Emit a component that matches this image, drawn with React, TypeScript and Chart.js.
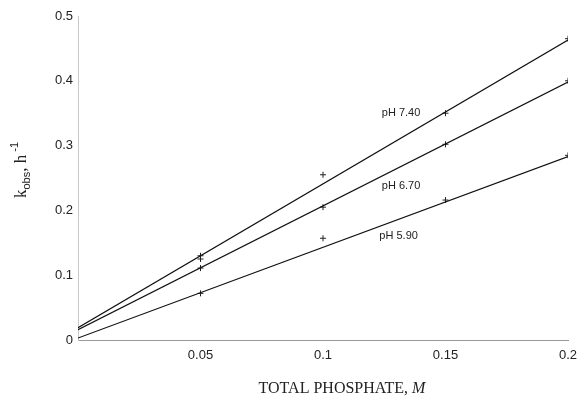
import React, { useEffect, useRef } from "react";
import { Chart, registerables } from "chart.js";

Chart.register(...registerables);

// Fitted lines (value at x = 0 and x = 0.2)
const fitX = [0, 0.2];
const fit740 = [0.019, 0.463];
const fit670 = [0.016, 0.398];
const fit590 = [0.003, 0.283];

// Measured points
const pts740X = [0.05, 0.05, 0.1, 0.15, 0.2];
const pts740Y = [0.13, 0.125, 0.255, 0.35, 0.465];
const pts670X = [0.05, 0.1, 0.15, 0.2];
const pts670Y = [0.111, 0.205, 0.302, 0.4];
const pts590X = [0.05, 0.1, 0.15, 0.2];
const pts590Y = [0.072, 0.157, 0.216, 0.285];

// Curve labels (text, x, y in data units)
const labelTexts = ["pH 7.40", "pH 6.70", "pH 5.90"];
const labelX = [0.124, 0.124, 0.123];
const labelY = [0.35, 0.238, 0.161];

const xTitle = "TOTAL PHOSPHATE, ";
const xTitleItalic = "M";

const toXY = (xs: number[], ys: number[]) => xs.map((x, i) => ({ x, y: ys[i] }));

const textPlugin = {
  id: "texts",
  afterDraw(chart: any) {
    const ctx = chart.ctx;
    const xs = chart.scales.x;
    const ys = chart.scales.y;
    ctx.save();
    ctx.fillStyle = "#222";
    ctx.font = "11px 'Liberation Sans', Arial, sans-serif";
    ctx.textBaseline = "middle";
    ctx.textAlign = "left";
    labelTexts.forEach((t, i) => {
      ctx.fillText(t, xs.getPixelForValue(labelX[i]), ys.getPixelForValue(labelY[i]));
    });

    // x title
    ctx.textBaseline = "alphabetic";
    const f1 = "16px 'Liberation Serif', 'Times New Roman', serif";
    const f2 = "italic 16px 'Liberation Serif', 'Times New Roman', serif";
    ctx.font = f1;
    const w1 = ctx.measureText(xTitle).width;
    ctx.font = f2;
    const w2 = ctx.measureText(xTitleItalic).width;
    const cx = 342;
    let sx = cx - (w1 + w2) / 2;
    ctx.font = f1;
    ctx.fillText(xTitle, sx, 393);
    ctx.font = f2;
    ctx.fillText(xTitleItalic, sx + w1, 393);

    // y title rotated
    ctx.translate(26, 170);
    ctx.rotate(-Math.PI / 2);
    const parts = [
      { t: "k", f: "17px 'Liberation Serif', 'Times New Roman', serif", dy: 0 },
      { t: "obs", f: "11px 'Liberation Sans', Arial, sans-serif", dy: 4 },
      { t: ", h", f: "17px 'Liberation Serif', 'Times New Roman', serif", dy: 0 },
      { t: " -1", f: "11px 'Liberation Sans', Arial, sans-serif", dy: -8 },
    ];
    let total = 0;
    parts.forEach((p) => {
      ctx.font = p.f;
      total += ctx.measureText(p.t).width;
    });
    let px = -total / 2;
    parts.forEach((p) => {
      ctx.font = p.f;
      ctx.fillText(p.t, px, p.dy);
      px += ctx.measureText(p.t).width;
    });
    ctx.restore();
  },
};

export default function App() {
  const ref = useRef<HTMLCanvasElement | null>(null);
  useEffect(() => {
    if (!ref.current) return;
    const lineDs = (data: number[]) => ({
      type: "line" as const,
      data: toXY(fitX, data),
      borderColor: "#111",
      borderWidth: 1.2,
      pointRadius: 0,
      showLine: true,
      fill: false,
    });
    const ptDs = (xs: number[], ys: number[]) => ({
      type: "scatter" as const,
      data: toXY(xs, ys),
      borderColor: "#222",
      backgroundColor: "#222",
      borderWidth: 1,
      pointStyle: "cross",
      pointRadius: 3,
      showLine: false,
    });
    const chart = new Chart(ref.current, {
      type: "scatter",
      data: {
        datasets: [
          lineDs(fit740),
          lineDs(fit670),
          lineDs(fit590),
          ptDs(pts740X, pts740Y),
          ptDs(pts670X, pts670Y),
          ptDs(pts590X, pts590Y),
        ] as any,
      },
      options: {
        animation: false,
        responsive: false,
        layout: { padding: { top: 16, right: 13, left: 0, bottom: 0 } },
        plugins: { legend: { display: false }, tooltip: { enabled: false } },
        scales: {
          x: {
            type: "linear",
            min: 0,
            max: 0.2,
            grid: { display: false, drawTicks: false },
            border: { display: true, color: "#999", dash: [4, 2], width: 1 },
            ticks: {
              stepSize: 0.05,
              padding: 8,
              color: "#222",
              font: { family: "'Liberation Sans', Arial, sans-serif", size: 13 },
              callback: (v: any) => (v === 0 ? "" : String(Number(Number(v).toFixed(2)))),
            },
            afterFit: (s: any) => {
              s.height = 60;
              s.paddingRight = 0;
              s.paddingLeft = 0;
            },
          },
          y: {
            type: "linear",
            min: 0,
            max: 0.5,
            grid: { display: false, drawTicks: false },
            border: { display: true, color: "#c8c8c8", dash: [1, 3], width: 1 },
            ticks: {
              stepSize: 0.1,
              padding: 5,
              color: "#222",
              font: { family: "'Liberation Sans', Arial, sans-serif", size: 13 },
              callback: (v: any) => String(Number(Number(v).toFixed(2))),
            },
            afterFit: (s: any) => {
              s.width = 78;
              s.paddingTop = 0;
              s.paddingBottom = 0;
            },
          },
        },
      },
      plugins: [textPlugin],
    });
    return () => chart.destroy();
  }, []);
  return (
    <div style={{ position: "absolute", left: 0, top: 0, width: 581, height: 400, background: "#fff" }}>
      <canvas ref={ref} width={581} height={400} style={{ display: "block" }} />
    </div>
  );
}
